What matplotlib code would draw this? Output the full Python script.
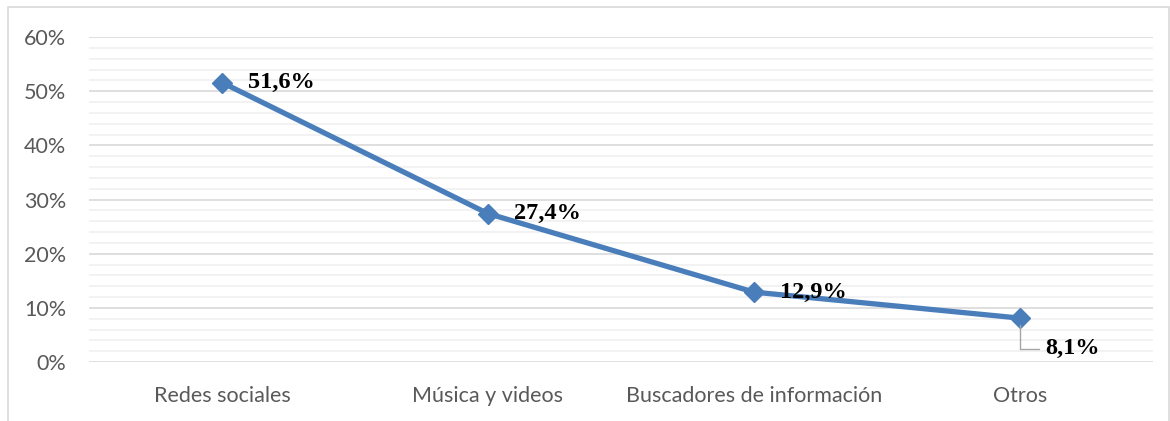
import matplotlib
matplotlib.use("Agg")
import matplotlib.pyplot as plt
from matplotlib.patches import Rectangle
from matplotlib.ticker import MultipleLocator, FuncFormatter

categories = ["Redes sociales", "Música y videos", "Buscadores de información", "Otros"]
values = [51.6, 27.4, 12.9, 8.1]
labels = ["51,6%", "27,4%", "12,9%", "8,1%"]
yticks = [0, 10, 20, 30, 40, 50, 60]

W, H = 1170, 421
fig = plt.figure(figsize=(W / 100, H / 100), dpi=100)
ax = fig.add_axes([89 / W, 1 - 362 / H, (1153 - 89) / W, (362 - 37) / H])

x = list(range(len(categories)))
color = "#4A7EBB"
ax.plot(x, values, color=color, lw=3.8, marker="D", markersize=10, zorder=3,
        solid_capstyle="round")

ax.set_xlim(-0.5, len(categories) - 0.5)
ax.set_ylim(0, 60)
ax.yaxis.set_minor_locator(MultipleLocator(2))
ax.set_yticks(yticks)
ax.yaxis.set_major_formatter(FuncFormatter(lambda v, p: f"{int(v)}%"))
ax.grid(axis="y", which="major", color="#D9D9D9", lw=1.2, zorder=0)
ax.grid(axis="y", which="minor", color="#F0F0F0", lw=1.2, zorder=0)
ax.set_xticks(x)
ax.set_xticklabels(categories)
for s in ax.spines.values():
    s.set_visible(False)
ax.tick_params(axis="both", which="both", length=0, colors="#595959", labelsize=15.5)
ax.tick_params(axis="y", pad=16.5)
ax.tick_params(axis="x", pad=17)
for t in ax.get_xticklabels() + ax.get_yticklabels():
    t.set_fontfamily("Lato")
    t.set_color("#595959")

lab_font = dict(family="Liberation Serif", fontweight="bold", fontsize=17.5, color="black")
for i in range(3):
    ax.annotate(labels[i], (x[i], values[i]), xytext=(19, 0), textcoords="offset points",
                ha="left", va="center", **lab_font)
# last label with leader line
i = 3
ax.annotate(labels[i], (x[i], values[i]), xytext=(18, -22), textcoords="offset points",
            ha="left", va="center", **lab_font,
            arrowprops=dict(arrowstyle="-", color="#A6A6A6", lw=1,
                            connectionstyle="angle,angleA=0,angleB=90,rad=0",
                            shrinkA=2, shrinkB=5))

fig.patches.append(Rectangle((8 / W, -0.05), (W - 9) / W, 1.05 - 7 / H,
                             transform=fig.transFigure, fill=False,
                             edgecolor="#D9D9D9", lw=1.2))
fig.savefig("out.png", dpi=100, facecolor="white")
